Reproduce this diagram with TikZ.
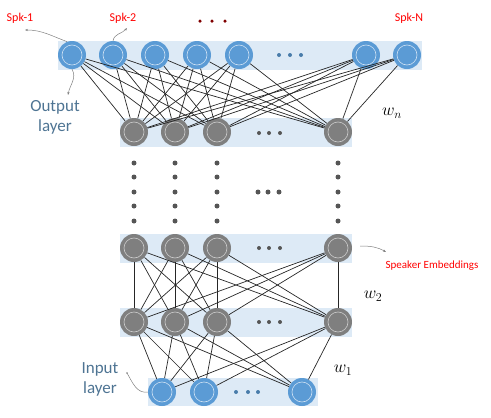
\documentclass[tikz,border=0pt]{standalone}
\usepackage{fontspec}
\newfontfamily\labelfont{Carlito}
\usetikzlibrary{positioning, calc, arrows.meta}
\definecolor{NodeBlue}{HTML}{5B9BD5}
\definecolor{NodeGray}{HTML}{7F7F7F}
\definecolor{BandBlue}{HTML}{DDEAF6}
\definecolor{LabelBlue}{HTML}{4E7493}
\definecolor{DotGray}{HTML}{555555}
\tikzset{
    bluenode/.style={circle, fill=NodeBlue, minimum size=28pt, inner sep=0pt,
        path picture={\draw[white!70!NodeBlue, line width=0.6pt] (path picture bounding box.center) circle (10pt);}},
    graynode/.style={circle, fill=NodeGray, minimum size=28pt, inner sep=0pt,
        path picture={\draw[white!60!NodeGray, line width=0.6pt] (path picture bounding box.center) circle (10pt);}},
    band/.style={fill=BandBlue, draw=none},
    link/.style={black!85, line width=0.7pt},
    callout/.style={-{Stealth[length=3pt]}, gray, line width=0.5pt},
    spk/.style={font=\labelfont\fontsize{12}{14}\selectfont, text=red},
    layerlabel/.style={font=\labelfont\fontsize{17}{20}\selectfont, text=LabelBlue, align=center},
    weight/.style={font=\fontsize{17}{20}\selectfont},
    smalldot/.style={circle, fill=DotGray, inner sep=0pt, minimum size=5pt},
}
\begin{document}
\begin{tikzpicture}[x=1pt, y=-1pt]
    \useasboundingbox (0,0) rectangle (491,418);

    % Bandes des couches
    \fill[band] (58,41) rectangle (422,70);
    \fill[band] (120,118) rectangle (352,147);
    \fill[band] (120,234) rectangle (352,263);
    \fill[band] (120,308) rectangle (352,337);
    \fill[band] (148,378) rectangle (318,406);

    % Couches
    \foreach \x [count=\i] in {72,113,155,197,239,366,407}
        \node[bluenode] (o\i) at (\x,55) {};
    \foreach \x [count=\i] in {134,175,217,338} {
        \node[graynode] (n\i) at (\x,132) {};
        \node[graynode] (b\i) at (\x,248) {};
        \node[graynode] (a\i) at (\x,322) {};
    }
    \foreach \x [count=\i] in {162,204,302}
        \node[bluenode] (in\i) at (\x,392) {};

    % Connexions
    \foreach \i in {1,...,7}
        \foreach \j in {1,...,4}
            \draw[link] (o\i) -- (n\j);
    \foreach \i in {1,...,4}
        \foreach \j in {1,...,4}
            \draw[link] (b\i) -- (a\j);
    \foreach \i in {1,...,4}
        \foreach \j in {1,...,3}
            \draw[link] (a\i) -- (in\j);

    % Points de suspension
    \foreach \x in {279,290,301} \node[smalldot, fill=NodeBlue!80!black, minimum size=4pt] at (\x,55) {};
    \foreach \x in {259,269,280} {
        \node[smalldot, minimum size=4pt] at (\x,133) {};
        \node[smalldot, minimum size=4pt] at (\x,248) {};
        \node[smalldot, minimum size=4pt] at (\x,322) {};
    }
    \foreach \x in {236,248,258} \node[smalldot, fill=NodeBlue!80!black, minimum size=4pt] at (\x,392) {};
    \foreach \x in {134,175,217,338}
        \foreach \y in {163,177,192,206,221}
            \node[smalldot] at (\x,\y) {};
    \foreach \x in {258,268,279} \node[smalldot] at (\x,192) {};
    \foreach \x in {200,212,225} \node[smalldot, fill=red!50!black, minimum size=3.5pt] at (\x,21) {};

    % Etiquettes
    \node[spk] (spk1) at (20,18) {Spk-1};
    \node[spk] (spk2) at (123,18) {Spk-2};
    \node[spk] (spkN) at (409,18) {Spk-N};
    \node[layerlabel] (outlab) at (55,117) {Output\\layer};
    \node[layerlabel] (inlab) at (100,379) {Input\\layer};
    \node[spk, font=\labelfont\fontsize{11}{13}\selectfont] (emb) at (432,266) {Speaker Embeddings};
    \node[weight] (wn) at (392,113) {$w_n$};
    \node[weight] (w2) at (373,296) {$w_2$};
    \node[weight] (w1) at (343,370) {$w_1$};

    % Fleches de renvoi
    \coordinate (c1) at (25,30);
    \coordinate (c2) at (127,28);
    \coordinate (c3) at (68,95);
    \coordinate (c4) at (127,373);
    \coordinate (c5) at (386,252);
    \draw[callout] (o1.110) to[out=160, in=0] (c1);
    \draw[callout] (o2.north) to[out=80, in=230] (c2);
    \draw[callout] (o1.south) to[out=-60, in=80] (c3);
    \draw[gray, line width=0.5pt] (in1.west) to[out=190, in=-60] (c4);
    \fill[gray] (c4) circle (0.8pt);
    \draw[callout] (b4.east) ++(8,-2) coordinate (e0) (e0) to[out=0, in=150] (c5);
\end{tikzpicture}
\end{document}
